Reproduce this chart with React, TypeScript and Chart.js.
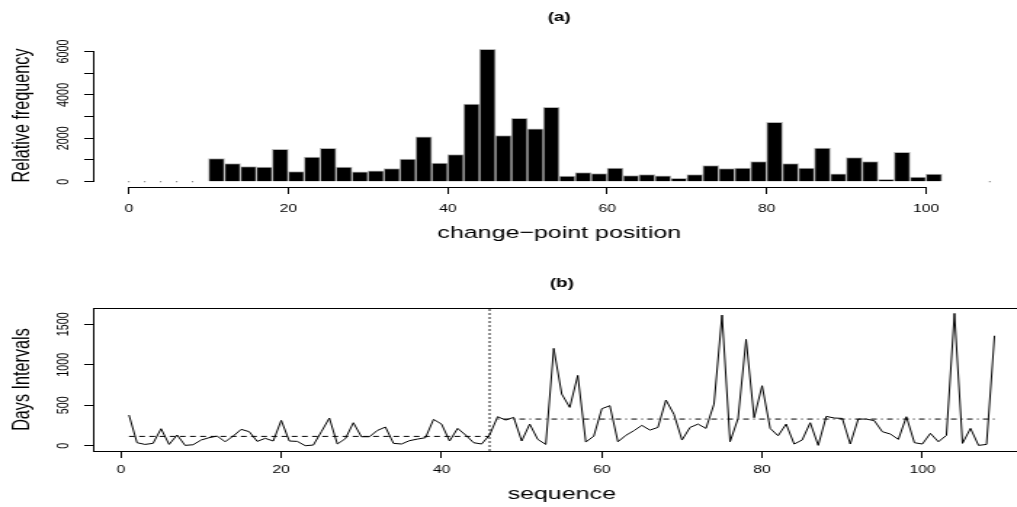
import React, { useEffect, useRef } from 'react';
import { Chart, registerables } from 'chart.js';

Chart.register(...registerables);

const FONT = '"Liberation Sans", Arial, Helvetica, sans-serif';

// ---------- (a) histogram of change-point positions ----------
const binCenters = [11, 13, 15, 17, 19, 21, 23, 25, 27, 29, 31, 33, 35, 37, 39, 41, 43, 45, 47, 49, 51, 53, 55, 57, 59, 61, 63, 65, 67, 69, 71, 73, 75, 77, 79, 81, 83, 85, 87, 89, 91, 93, 95, 97, 99, 101];
const binCounts = [1071, 840, 700, 670, 1486, 470, 1130, 1532, 670, 452, 500, 610, 1040, 2070, 855, 1255, 3576, 6100, 2130, 2916, 2437, 3424, 254, 424, 378, 623, 286, 332, 268, 160, 332, 748, 610, 623, 932, 2732, 840, 623, 1546, 360, 1117, 932, 115, 1348, 208, 346];
const emptyBinEdges = [0, 2, 4, 6, 8, 108];
const histRange = [0, 108];
const histXTicks = [0, 20, 40, 60, 80, 100];
const histYTicks = [0, 1000, 2000, 3000, 4000, 5000, 6000];
const histYTickLabels = ['0', '', '2000', '', '4000', '', '6000'];

// ---------- (b) days intervals by sequence ----------
const sequence = [
  1, 2, 3, 4, 5, 6, 7, 8, 9, 10,
  11, 12, 13, 14, 15, 16, 17, 18, 19, 20,
  21, 22, 23, 24, 25, 26, 27, 28, 29, 30,
  31, 32, 33, 34, 35, 36, 37, 38, 39, 40,
  41, 42, 43, 44, 45, 46, 47, 48, 49, 50,
  51, 52, 53, 54, 55, 56, 57, 58, 59, 60,
  61, 62, 63, 64, 65, 66, 67, 68, 69, 70,
  71, 72, 73, 74, 75, 76, 77, 78, 79, 80,
  81, 82, 83, 84, 85, 86, 87, 88, 89, 90,
  91, 92, 93, 94, 95, 96, 97, 98, 99, 100,
  101, 102, 103, 104, 105, 106, 107, 108, 109,
];
const daysIntervals = [
  379, 37, 16, 29, 210, 16, 132, 4, 12, 70,
  99, 119, 49, 119, 202, 173, 53, 91, 58, 313,
  58, 53, 0, 8, 173, 342, 21, 86, 284, 111,
  111, 189, 230, 29, 21, 62, 82, 99, 325, 267,
  58, 214, 132, 37, 21, 132, 358, 317, 350, 58,
  267, 78, 16, 1202, 638, 473, 868, 45, 119, 457,
  494, 49, 128, 185, 251, 193, 226, 564, 387, 70,
  226, 267, 214, 514, 1613, 49, 337, 1313, 346, 741,
  214, 123, 267, 21, 70, 284, 4, 362, 342, 337,
  21, 329, 329, 309, 173, 144, 78, 358, 37, 21,
  152, 49, 128, 1634, 29, 214, 4, 16, 1358,
];
const changePoint = 46;
const meanBefore = 115;
const meanAfter = 329;
const beforeSpan = [1, 46];
const afterSpan = [47, 109];
const seqXTicks = [0, 20, 40, 60, 80, 100];
const seqYTicks = [0, 500, 1000, 1500];

// ---------- layout (R device 700 px wide, shown stretched to 1017) ----------
const STRETCH = 1017 / 700;
const DRAW_W = 709;
const TOP_H = 254;
const BOT_H = 253;
const AREA_LEFT = 64.95;
const AREA_RIGHT = 708.4;

function padRange(lo: number, hi: number): [number, number] {
  const p = (hi - lo) * 0.04;
  return [lo - p, hi + p];
}

const rAxesPlugin = {
  id: 'rAxes',
  afterDraw(chart: any, _args: any, opts: any) {
    const { ctx, chartArea } = chart;
    const xs = chart.scales.x;
    const ys = chart.scales.y;
    ctx.save();
    ctx.strokeStyle = '#000';
    ctx.lineWidth = 1;
    ctx.setLineDash([]);
    const yb = Math.round(chartArea.bottom) + 0.5;
    const xl = Math.round(chartArea.left) - 0.5;
    const xt = xs.ticks;
    const yt = ys.ticks;
    ctx.beginPath();
    ctx.moveTo(xs.getPixelForValue(xt[0].value), yb);
    ctx.lineTo(xs.getPixelForValue(xt[xt.length - 1].value), yb);
    ctx.moveTo(xl, ys.getPixelForValue(yt[0].value));
    ctx.lineTo(xl, ys.getPixelForValue(yt[yt.length - 1].value));
    ctx.stroke();
    if (opts && opts.box) {
      ctx.strokeRect(xl, Math.round(chartArea.top) + 0.5, Math.round(chartArea.right) - xl + 10, yb - Math.round(chartArea.top) - 0.5);
    }
    ctx.restore();
  },
};

function xScale(range: [number, number], ticks: number[], height: number, tickPad: number, title: string, titleBottom: number) {
  return {
    type: 'linear',
    min: range[0],
    max: range[1],
    offset: false,
    afterBuildTicks: (s: any) => { s.ticks = ticks.map((v) => ({ value: v })); },
    afterFit: (s: any) => { s.height = height; },
    grid: { display: true, drawOnChartArea: false, drawTicks: true, tickLength: 7, color: '#000', lineWidth: 1, offset: false },
    border: { display: false },
    ticks: {
      color: '#000', font: { family: FONT, size: 10.8 }, padding: tickPad,
      maxRotation: 0, minRotation: 0, autoSkip: false,
      callback: (v: any) => String(v),
    },
    title: { display: true, text: title, color: '#000', font: { family: FONT, size: 17.2 }, padding: { top: 0, bottom: titleBottom } },
  };
}

function yScale(range: [number, number], ticks: number[], labels: string[] | null, title: string, titleTop: number) {
  return {
    type: 'linear',
    min: range[0],
    max: range[1],
    afterBuildTicks: (s: any) => { s.ticks = ticks.map((v) => ({ value: v })); },
    afterFit: (s: any) => { s.width = AREA_LEFT; },
    grid: { display: true, drawOnChartArea: false, drawTicks: true, tickLength: 7, color: '#000', lineWidth: 1 },
    border: { display: false },
    ticks: {
      color: '#000', font: { family: FONT, size: 10.8 }, padding: 2.3,
      minRotation: 90, maxRotation: 90, autoSkip: false, crossAlign: 'center',
      callback: (v: any) => {
        if (!labels) return String(v);
        const i = ticks.indexOf(v);
        return i >= 0 ? labels[i] : '';
      },
    },
    title: { display: true, text: title, color: '#000', font: { family: FONT, size: 16.2 }, padding: { top: titleTop, bottom: 0 } },
  };
}

function mainTitle(text: string, top: number, bottom: number) {
  return {
    display: true, text, color: '#000', fullSize: false,
    font: { family: FONT, size: 13, weight: 'bold' },
    padding: { top, bottom },
  };
}

export default function App() {
  const topRef = useRef<HTMLCanvasElement | null>(null);
  const botRef = useRef<HTMLCanvasElement | null>(null);

  useEffect(() => {
    const histX = padRange(histRange[0], histRange[1]);
    const histY = padRange(0, Math.max(...binCounts));
    const chartA = new Chart(topRef.current as HTMLCanvasElement, {
      type: 'bar',
      data: {
        datasets: [
          {
            type: 'bar',
            data: binCenters.map((x, i) => ({ x, y: binCounts[i] })),
            backgroundColor: '#000',
            borderColor: '#b4b4b4',
            borderWidth: 1,
            borderSkipped: 'start',
            categoryPercentage: 1,
            barPercentage: 1,
          } as any,
          {
            type: 'scatter',
            data: emptyBinEdges.map((x) => ({ x, y: 0 })),
            pointRadius: 0.6,
            backgroundColor: '#777',
            borderWidth: 0,
          } as any,
        ],
      },
      options: {
        responsive: false,
        animation: false,
        devicePixelRatio: 1,
        layout: { padding: { left: 0, right: DRAW_W - AREA_RIGHT, top: 0, bottom: 0 } },
        plugins: {
          legend: { display: false },
          tooltip: { enabled: false },
          title: mainTitle('(a)', 9.2, 19.2),
          rAxes: { box: false },
        } as any,
        scales: {
          x: xScale(histX, histXTicks, TOP_H - 187, 8.7, 'change\u2212point position', 10.7),
          y: yScale(histY, histYTicks, histYTickLabels, 'Relative frequency', 6.1),
        } as any,
      },
      plugins: [rAxesPlugin],
    });

    const seqX = padRange(sequence[0], sequence[sequence.length - 1]);
    const seqY = padRange(Math.min(...daysIntervals), Math.max(...daysIntervals));
    const chartB = new Chart(botRef.current as HTMLCanvasElement, {
      type: 'line',
      data: {
        datasets: [
          {
            data: sequence.map((x, i) => ({ x, y: daysIntervals[i] })),
            borderColor: '#000',
            borderWidth: 1,
            pointRadius: 0,
            tension: 0,
            fill: false,
          },
          {
            data: [{ x: beforeSpan[0], y: meanBefore }, { x: beforeSpan[1], y: meanBefore }],
            borderColor: '#000',
            borderWidth: 1,
            borderDash: [4, 3],
            pointRadius: 0,
            fill: false,
          },
          {
            data: [{ x: afterSpan[0], y: meanAfter }, { x: afterSpan[1], y: meanAfter }],
            borderColor: '#000',
            borderWidth: 1,
            borderDash: [1, 3, 4, 3],
            pointRadius: 0,
            fill: false,
          },
          {
            data: [{ x: changePoint, y: seqY[0] }, { x: changePoint, y: seqY[1] }],
            borderColor: '#444',
            borderWidth: 1.2,
            borderDash: [2, 2],
            pointRadius: 0,
            fill: false,
          },
        ],
      },
      options: {
        responsive: false,
        animation: false,
        devicePixelRatio: 1,
        layout: { padding: { left: 0, right: DRAW_W - AREA_RIGHT, top: 0, bottom: 0 } },
        plugins: {
          legend: { display: false },
          tooltip: { enabled: false },
          title: mainTitle('(b)', 21.2, 17.3),
          rAxes: { box: true },
        } as any,
        scales: {
          x: xScale(seqX, seqXTicks, BOT_H - 197, 5.2, 'sequence', 2.7),
          y: yScale(seqY, seqYTicks, null, 'Days Intervals', 5.6),
        } as any,
      },
      plugins: [rAxesPlugin],
    });

    return () => {
      chartA.destroy();
      chartB.destroy();
    };
  }, []);

  const cssW = `${DRAW_W * STRETCH}px`;
  return (
    <div style={{ position: 'fixed', left: 0, top: 0, width: 1017, height: 507, overflow: 'hidden', background: '#fff' }}>
      <canvas ref={topRef} width={DRAW_W} height={TOP_H} style={{ display: 'block', width: cssW, height: `${TOP_H}px` }} />
      <canvas ref={botRef} width={DRAW_W} height={BOT_H} style={{ display: 'block', width: cssW, height: `${BOT_H}px` }} />
    </div>
  );
}
